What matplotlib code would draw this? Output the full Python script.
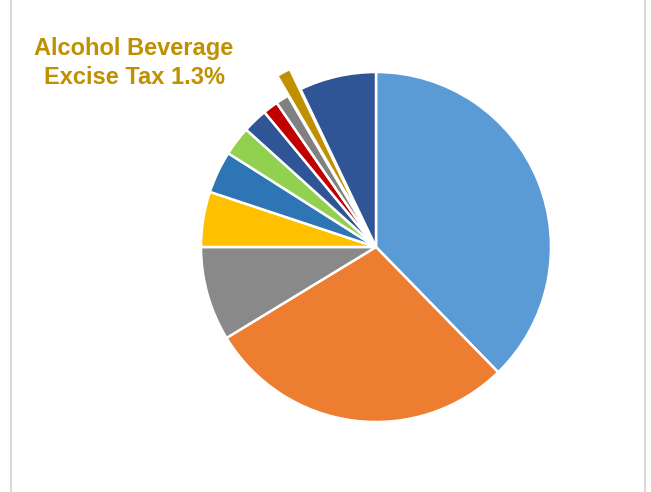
import matplotlib.pyplot as plt
from matplotlib.lines import Line2D

# Revenue shares (%), clockwise from 12 o'clock
shares = [37.7, 28.6, 8.7, 5.1, 3.9, 2.7, 2.3, 1.4, 1.2, 1.3, 7.1]
colors = ['#5B9BD5', '#ED7D31', '#898989', '#FFC000', '#2E75B6', '#92D050',
          '#2F5597', '#C00000', '#808080', '#BF9000', '#2F5597']
highlight = 9  # alcohol beverage excise tax slice
highlight_label = 'Alcohol Beverage\nExcise Tax {:.1f}%'.format(shares[highlight])

W, H = 651, 492
R = 175

# pie() offsets exploded wedges in data units, not radius fractions
explode = [0.0] * len(shares)
explode[highlight] = 0.13 * R

fig = plt.figure(figsize=(W / 100, H / 100), dpi=100)
ax = fig.add_axes([0, 0, 1, 1])

ax.pie(shares, colors=colors, explode=explode, startangle=90, counterclock=False,
       center=(376, 245), radius=R, frame=True,
       wedgeprops=dict(edgecolor='white', linewidth=1.8))
ax.set_xlim(0, W)
ax.set_ylim(0, H)
ax.axis('off')

ax.text(134, 429, highlight_label, color='#BF9000', fontsize=17, fontweight='bold',
        family='Liberation Sans', ha='center', va='center', linespacing=1.3)

# thin chart frame lines on the sides
for x in (11, 645):
    fig.add_artist(Line2D([x / W, x / W], [0, 1], color='#D9D9D9', lw=1.5))

fig.savefig('out.png', dpi=100)
